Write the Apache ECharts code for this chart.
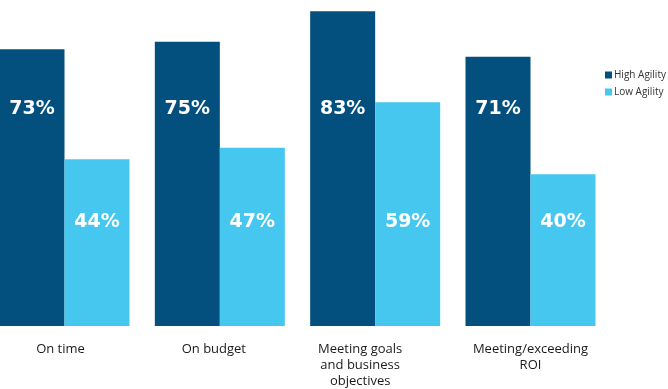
<!DOCTYPE html>
<html>
<head>
<meta charset="utf-8">
<script src="https://cdn.jsdelivr.net/npm/echarts@6/dist/echarts.min.js"></script>
<style>
html,body{margin:0;padding:0;background:#fff;}
#chart{width:668px;height:389px;}
</style>
</head>
<body>
<div id="chart"></div>
<script>
const categories = ['On time', 'On budget', 'Meeting goals\nand business\nobjectives', 'Meeting/exceeding\nROI'];
const highAgility = [73, 75, 83, 71];
const lowAgility = [44, 47, 59, 40];
const seriesNames = ['High Agility', 'Low Agility'];

const labelShift = [8, 12, 30, 0]; // right padding to nudge category labels

const chart = echarts.init(document.getElementById('chart'));
const valueLabel = (dist) => ({
  show: true,
  position: 'insideBottom',
  distance: dist,
  verticalAlign: 'middle',
  color: '#ffffff',
  fontFamily: 'DejaVu Sans',
  fontWeight: 'bold',
  fontSize: 19,
  formatter: '{c}%'
});
chart.setOption({
  animation: false,
  backgroundColor: '#ffffff',
  grid: { left: 64.5, right: 137.5, top: 0, bottom: 61, containLabel: false },
  legend: {
    orient: 'vertical',
    left: 600,
    top: 65,
    itemWidth: 7,
    itemHeight: 7,
    itemGap: 7,
    icon: 'rect',
    textStyle: { fontFamily: 'Open Sans', fontSize: 10, color: '#333333', padding: [0, 0, 0, -3] },
    data: seriesNames
  },
  xAxis: {
    type: 'category',
    boundaryGap: false,
    data: categories.map((c, i) => ({ value: c, textStyle: { padding: [0, labelShift[i], 0, 0] } })),
    axisLine: { show: false },
    axisTick: { show: false },
    splitLine: { show: false },
    axisLabel: {
      interval: 0,
      margin: 15,
      fontFamily: 'Open Sans',
      fontSize: 13,
      lineHeight: 16,
      color: '#1a1a1a'
    }
  },
  yAxis: {
    type: 'value',
    min: 0,
    max: 86,
    show: false,
    splitLine: { show: false }
  },
  series: [
    {
      name: seriesNames[0],
      type: 'bar',
      data: highAgility,
      barWidth: 65,
      barGap: '0%',
      itemStyle: { color: '#03507f' },
      label: valueLabel(217)
    },
    {
      name: seriesNames[1],
      type: 'bar',
      data: lowAgility,
      barWidth: 65,
      barGap: '0%',
      itemStyle: { color: '#46c7f0' },
      label: valueLabel(104)
    }
  ]
});
</script>
</body>
</html>
